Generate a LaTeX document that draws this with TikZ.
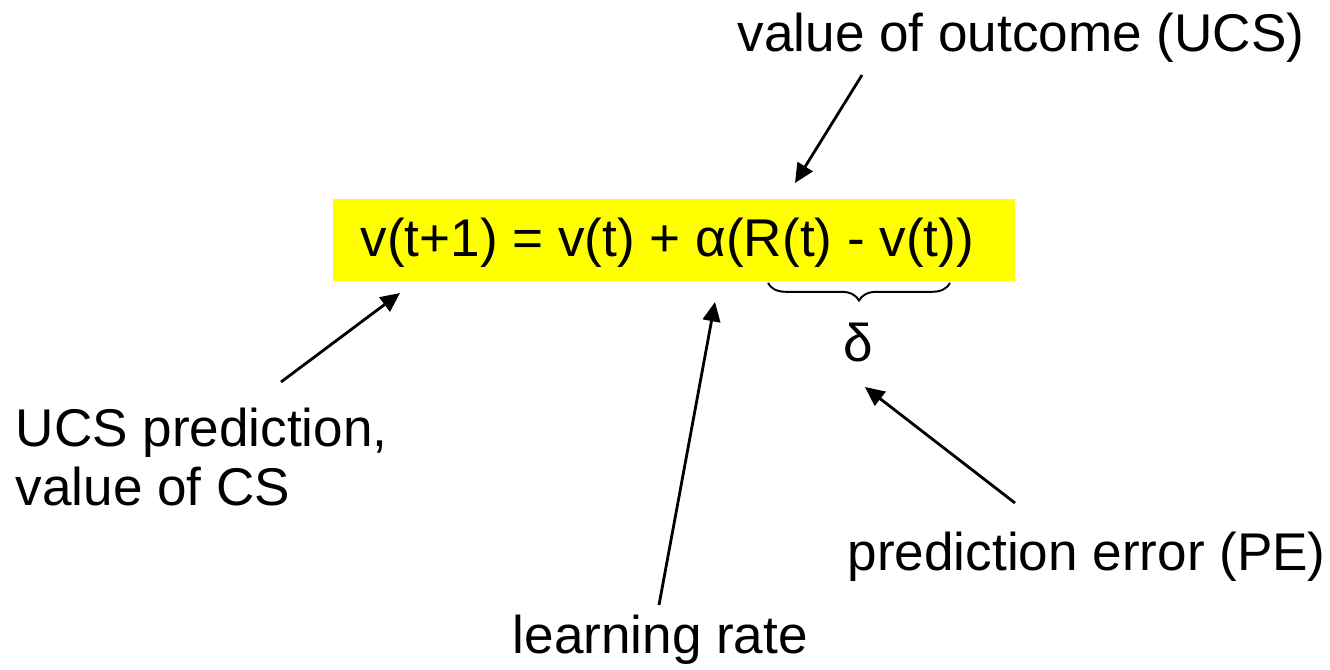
\documentclass[tikz,border=0pt]{standalone}
\usepackage{fontspec}
\setmainfont{Liberation Sans}
\usetikzlibrary{arrows.meta,decorations.pathreplacing}
\definecolor{hl}{RGB}{255,255,0}
\begin{document}
\begin{tikzpicture}[x=0.01cm,y=-0.01cm,
  lbl/.style={anchor=base west,inner sep=0pt,font=\fontsize{15.1}{16.5}\selectfont},
  arr/.style={line width=0.8pt,-{Triangle[length=5.5pt,width=5pt]}},
  br/.style={line width=0.55pt,decorate,decoration={brace,mirror,amplitude=5pt}}]
\useasboundingbox (0,0) rectangle (1330,670);
\node[fill=hl,minimum width=6.82cm,minimum height=0.82cm,inner sep=0pt] (box) at (674,240) {};
\node[lbl] (eq) at (360,256) {v(t+1) = v(t) + α(R(t) - v(t))};
\node[lbl] (outcome) at (737,52) {value of outcome (UCS)};
\node[lbl,align=left] (ucs) at (15,505) {UCS prediction,\\value of CS};
\node[lbl] (rate) at (512,653) {learning rate};
\node[lbl] (pe) at (847,570) {prediction error (PE)};
\node[lbl,anchor=base] (delta) at (858,361) {δ};
\coordinate (bl) at (768,283);
\coordinate (brr) at (950,283);
\draw[br] (bl) -- (brr);
\coordinate (t1) at (862,75);  \coordinate (h1) at (795,183);
\coordinate (t2) at (281,382); \coordinate (h2) at (400,293);
\coordinate (t3) at (659,605); \coordinate (h3) at (715,302);
\coordinate (t4) at (1015,503);\coordinate (h4) at (865,387);
\draw[arr] (t1) -- (h1);
\draw[arr] (t2) -- (h2);
\draw[arr] (t3) -- (h3);
\draw[arr] (t4) -- (h4);
\end{tikzpicture}
\end{document}
